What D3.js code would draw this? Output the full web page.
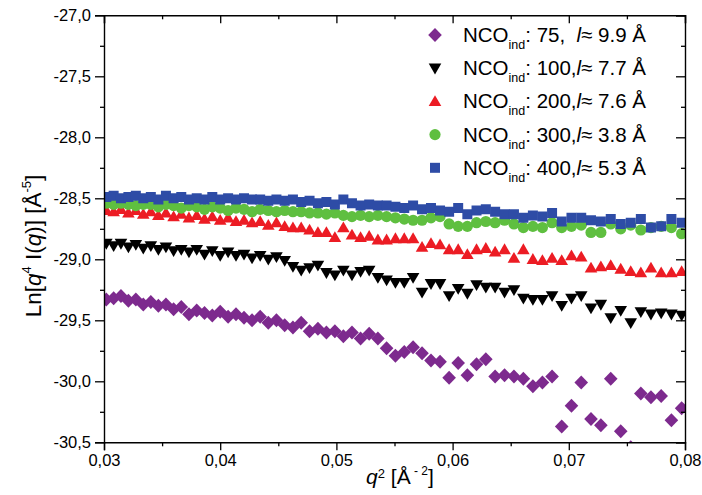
<!DOCTYPE html>
<html><head><meta charset="utf-8">
<script src="https://cdn.jsdelivr.net/npm/d3@7"></script>
<style>
body{margin:0;background:#fff;}
svg{display:block;font-family:"Liberation Sans",Arial,sans-serif;}
</style></head>
<body>
<svg id="chart" width="702" height="495"></svg>
<script>
// q^2 values (Å^-2), shared by all series
const q2 = [0.0302,0.03083,0.03146,0.0321,0.03274,0.03338,0.03403,0.03468,0.03533,0.03599,
0.03665,0.03731,0.03798,0.03865,0.03932,0.04,0.04068,0.04136,0.04205,0.04274,
0.04344,0.04414,0.04484,0.04555,0.04626,0.04697,0.04769,0.04841,0.04914,0.04987,
0.0506,0.05134,0.05208,0.05282,0.05357,0.05432,0.05508,0.05584,0.0566,0.05737,
0.05814,0.05892,0.0597,0.06048,0.06127,0.06206,0.06286,0.06366,0.06447,0.06528,
0.06609,0.06691,0.06773,0.06856,0.06939,0.07023,0.07107,0.07191,0.07276,0.07361,
0.07447,0.07533,0.0762,0.07707,0.07795,0.07883,0.07971];

const nco75 = [-29.33,-29.32,-29.30,-29.34,-29.33,-29.37,-29.35,-29.38,-29.37,-29.41,
-29.39,-29.45,-29.42,-29.44,-29.46,-29.43,-29.47,-29.45,-29.48,-29.50,
-29.47,-29.52,-29.50,-29.54,-29.56,-29.52,-29.59,-29.57,-29.60,-29.59,
-29.63,-29.60,-29.65,-29.61,-29.65,-29.73,-29.79,-29.76,-29.72,-29.77,
-29.83,-29.84,-29.97,-29.85,-29.95,-29.86,-29.82,-29.96,-29.95,-29.96,
-29.98,-30.04,-30.01,-29.96,-30.37,-30.20,-30.01,-30.31,-30.36,-29.98,
-30.41,-30.54,-30.10,-30.13,-30.12,-30.32,-30.22];

const nco100 = [-28.87,-28.89,-28.87,-28.90,-28.88,-28.91,-28.89,-28.92,-28.90,-28.93,
-28.92,-28.94,-28.92,-28.96,-28.93,-28.97,-28.94,-28.97,-28.96,-28.99,
-28.97,-29.00,-28.98,-29.01,-29.06,-29.09,-29.07,-29.05,-29.11,-29.13,
-29.09,-29.13,-29.10,-29.09,-29.15,-29.17,-29.19,-29.19,-29.15,-29.27,
-29.20,-29.20,-29.30,-29.24,-29.28,-29.21,-29.23,-29.23,-29.27,-29.25,
-29.32,-29.33,-29.33,-29.30,-29.38,-29.32,-29.30,-29.40,-29.37,-29.48,
-29.42,-29.52,-29.43,-29.45,-29.44,-29.45,-29.46];

const nco200 = [-28.60,-28.61,-28.59,-28.62,-28.60,-28.63,-28.61,-28.64,-28.62,-28.65,
-28.63,-28.66,-28.64,-28.67,-28.65,-28.68,-28.66,-28.69,-28.68,-28.70,
-28.69,-28.72,-28.70,-28.73,-28.74,-28.74,-28.76,-28.78,-28.78,-28.82,
-28.74,-28.80,-28.82,-28.81,-28.84,-28.84,-28.83,-28.83,-28.83,-28.90,
-28.87,-28.88,-28.92,-28.92,-28.96,-28.92,-28.91,-28.94,-28.92,-28.99,
-28.92,-29.00,-29.01,-28.99,-29.01,-28.97,-28.98,-29.07,-29.06,-29.05,
-29.08,-29.10,-29.11,-29.07,-29.11,-29.11,-29.10];

const nco300 = [-28.54,-28.55,-28.54,-28.55,-28.56,-28.55,-28.55,-28.57,-28.55,-28.56,
-28.58,-28.56,-28.57,-28.59,-28.57,-28.58,-28.60,-28.58,-28.59,-28.61,
-28.59,-28.60,-28.61,-28.60,-28.61,-28.61,-28.62,-28.62,-28.63,-28.62,
-28.64,-28.65,-28.64,-28.65,-28.64,-28.65,-28.66,-28.67,-28.68,-28.68,
-28.66,-28.65,-28.71,-28.73,-28.73,-28.70,-28.69,-28.70,-28.68,-28.71,
-28.74,-28.73,-28.74,-28.70,-28.74,-28.73,-28.72,-28.78,-28.78,-28.71,
-28.75,-28.72,-28.76,-28.74,-28.73,-28.74,-28.79];

const nco400 = [-28.49,-28.48,-28.50,-28.49,-28.48,-28.50,-28.49,-28.51,-28.48,-28.50,
-28.49,-28.51,-28.50,-28.51,-28.49,-28.51,-28.50,-28.51,-28.50,-28.51,
-28.51,-28.52,-28.51,-28.52,-28.51,-28.53,-28.52,-28.54,-28.53,-28.55,
-28.51,-28.54,-28.56,-28.55,-28.56,-28.56,-28.57,-28.58,-28.56,-28.59,
-28.58,-28.60,-28.61,-28.58,-28.63,-28.60,-28.59,-28.61,-28.63,-28.63,
-28.66,-28.64,-28.65,-28.62,-28.69,-28.66,-28.66,-28.68,-28.69,-28.67,
-28.71,-28.70,-28.67,-28.74,-28.73,-28.67,-28.70];

const xTicks = [0.03,0.04,0.05,0.06,0.07,0.08];
const yTicks = [-27.0,-27.5,-28.0,-28.5,-29.0,-29.5,-30.0,-30.5];
const legendNCO = ["75,", "100,", "200,", "300,", "400,"];
const legendL = ["9.9 Å", "7.7 Å", "7.6 Å", "3.8 Å", "5.3 Å"];

const series = [
  {vals: nco75,  color: "#7d2a8e", shape: "diamond"},
  {vals: nco100, color: "#000000", shape: "tridown"},
  {vals: nco200, color: "#ec1c24", shape: "triup"},
  {vals: nco300, color: "#5fbf40", shape: "circle"},
  {vals: nco400, color: "#2e4ca6", shape: "square"}
];

const shapes = {
  diamond: "M0,-7L6.8,0L0,7L-6.8,0Z",
  tridown: "M-6.3,-4.6L6.3,-4.6L0,6.2Z",
  triup: "M0,-6.2L6.3,4.6L-6.3,4.6Z",
  circle: "M5.6,0A5.6,5.6,0,1,1,-5.6,0A5.6,5.6,0,1,1,5.6,0Z",
  square: "M-5,-5H5V5H-5Z"
};

const svg = d3.select("#chart");
const L = 104, R = 685, T = 15.3, B = 442.3;
const x = d3.scaleLinear().domain([0.03,0.08]).range([L,R]);
const y = d3.scaleLinear().domain([-30.5,-27.0]).range([B,T]);

svg.append("clipPath").attr("id","clip").append("rect")
  .attr("x",L).attr("y",T).attr("width",R-L).attr("height",B-T);

// data
const gData = svg.append("g").attr("clip-path","url(#clip)");
series.forEach(s => {
  gData.append("g").selectAll("path").data(s.vals).join("path")
    .attr("d", shapes[s.shape])
    .attr("fill", s.color)
    .attr("transform", (v,i) => `translate(${x(q2[i])},${y(v)})`);
});

// axes
const xMinor = d3.range(0.035, 0.08, 0.01);
const yMinor = d3.range(-27.25, -30.5, -0.5);
const axStyle = g => { g.selectAll("path.domain").attr("stroke","#000").attr("stroke-width",1.4);
  g.selectAll(".tick line").attr("stroke","#000").attr("stroke-width",1.3);
  g.selectAll(".tick text").attr("fill","#000").attr("font-size",16.5).attr("font-family","Liberation Sans, Arial, sans-serif"); };

svg.append("g").attr("transform",`translate(0,${B})`)
  .call(d3.axisBottom(x).tickValues(xTicks).tickSize(8).tickPadding(4).tickFormat(d=>d3.format(".2f")(d).replace(".",","))).call(axStyle);
svg.append("g").attr("transform",`translate(0,${B})`)
  .call(d3.axisBottom(x).tickValues(xMinor).tickSize(4).tickFormat("")).call(axStyle).select(".domain").remove();
svg.append("g").attr("transform",`translate(0,${T})`)
  .call(d3.axisTop(x).tickValues(xTicks).tickSize(-8).tickFormat("")).call(axStyle);
svg.append("g").attr("transform",`translate(0,${T})`)
  .call(d3.axisTop(x).tickValues(xMinor).tickSize(-4).tickFormat("")).call(axStyle).select(".domain").remove();

svg.append("g").attr("transform",`translate(${L},0)`)
  .call(d3.axisLeft(y).tickValues(yTicks).tickSize(9).tickPadding(4).tickFormat(d=>d3.format(".1f")(d).replace(".",",").replace("−","-"))).call(axStyle);
svg.append("g").attr("transform",`translate(${L},0)`)
  .call(d3.axisLeft(y).tickValues(yMinor).tickSize(4).tickFormat("")).call(axStyle).select(".domain").remove();
svg.append("g").attr("transform",`translate(${R},0)`)
  .call(d3.axisRight(y).tickValues(yTicks).tickSize(-9).tickFormat("")).call(axStyle);
svg.append("g").attr("transform",`translate(${R},0)`)
  .call(d3.axisRight(y).tickValues(yMinor).tickSize(-4).tickFormat("")).call(axStyle).select(".domain").remove();

// x title
const xtitle = svg.append("text").attr("x",400).attr("y",484).attr("text-anchor","middle")
  .attr("font-size",21).attr("fill","#000");
xtitle.append("tspan").attr("font-style","italic").text("q");
xtitle.append("tspan").attr("font-size",13).attr("dy",-6).text("2");
xtitle.append("tspan").attr("dy",6).text(" [Å");
xtitle.append("tspan").attr("font-size",12).attr("dy",-9).text(" - 2");
xtitle.append("tspan").attr("dy",9).text("]");

// y title
const ytitle = svg.append("text").attr("transform","translate(41,246) rotate(-90)")
  .attr("text-anchor","middle").attr("font-size",22.5).attr("fill","#000");
ytitle.append("tspan").text("Ln[");
ytitle.append("tspan").attr("font-style","italic").text("q");
ytitle.append("tspan").attr("font-size",13).attr("dy",-10).text("4");
ytitle.append("tspan").attr("dy",10).text(" I(");
ytitle.append("tspan").attr("font-style","italic").text("q");
ytitle.append("tspan").text(")] [Å");
ytitle.append("tspan").attr("font-size",13).attr("dy",-10).text("-5");
ytitle.append("tspan").attr("dy",10).text("]");

// legend
const leg = svg.append("g");
series.forEach((s,i) => {
  const ly = 35 + i*33.2;
  leg.append("path").attr("d", shapes[s.shape]).attr("fill", s.color)
    .attr("transform", `translate(435,${ly})`);
  const t = leg.append("text").attr("x",463).attr("y",ly+7).attr("font-size",20.5).attr("fill","#000");
  t.append("tspan").text("NCO");
  t.append("tspan").attr("font-size",12.5).attr("dy",7).text("ind");
  t.append("tspan").attr("dy",-7).text(": " + legendNCO[i] + (i===0 ? "\u00a0\u00a0" : ""));
  t.append("tspan").attr("font-style","italic").text("l");
  t.append("tspan").text("\u2248 " + legendL[i]);
});
</script>
</body></html>
